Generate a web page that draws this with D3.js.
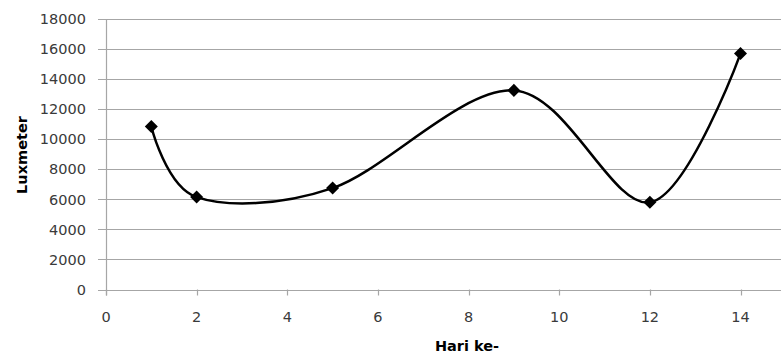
<!DOCTYPE html>
<html>
<head>
<meta charset="utf-8">
<script src="https://cdn.jsdelivr.net/npm/d3@7"></script>
<style>
  html, body { margin: 0; padding: 0; background: #fff; }
  svg { display: block; }
  text { font-family: "DejaVu Sans", Verdana, sans-serif; }
</style>
</head>
<body>
<svg id="chart" width="781" height="353"></svg>
<script>
// Daily light readings (lux) by day number
const days = [1, 2, 5, 9, 12, 14];
const lux = [10850, 6150, 6750, 13250, 5800, 15700];
const xTicks = [0, 2, 4, 6, 8, 10, 12, 14];
const yTicks = [0, 2000, 4000, 6000, 8000, 10000, 12000, 14000, 16000, 18000];

const svg = d3.select("#chart");
const W = 781, H = 353;
const plotLeft = 106, plotTop = 19, plotBottom = 289.5;

const x = d3.scaleLinear().domain([0, 14]).range([plotLeft, 740.5]);
const y = d3.scaleLinear().domain([0, 18000]).range([plotBottom, plotTop]);

const grid = "#a6a6a6";
const labelColor = "#3a3a3a";

// horizontal gridlines with small tick stubs on the left
const gy = svg.append("g");
gy.selectAll("line").data(yTicks).join("line")
  .attr("x1", plotLeft - 8).attr("x2", W)
  .attr("y1", d => Math.round(y(d)) + 0.5).attr("y2", d => Math.round(y(d)) + 0.5)
  .attr("stroke", grid).attr("stroke-width", 1.2);
gy.selectAll("text").data(yTicks).join("text")
  .attr("x", 86).attr("y", d => y(d)).attr("dy", "0.36em")
  .attr("text-anchor", "end").attr("font-size", 14.5).attr("fill", labelColor)
  .text(d => d);

// vertical axis line
svg.append("line")
  .attr("x1", plotLeft + 0.5).attr("x2", plotLeft + 0.5)
  .attr("y1", y(18000)).attr("y2", plotBottom + 6)
  .attr("stroke", grid).attr("stroke-width", 1.2);

// x ticks and labels
const gx = svg.append("g");
gx.selectAll("line").data(xTicks).join("line")
  .attr("x1", d => Math.round(x(d)) + 0.5).attr("x2", d => Math.round(x(d)) + 0.5)
  .attr("y1", plotBottom).attr("y2", plotBottom + 6)
  .attr("stroke", grid).attr("stroke-width", 1.2);
gx.selectAll("text").data(xTicks).join("text")
  .attr("x", d => x(d)).attr("y", 322)
  .attr("text-anchor", "middle").attr("font-size", 14.5).attr("fill", labelColor)
  .text(d => d);

// smoothed series line
const pts = days.map((d, i) => [d, lux[i]]);
const line = d3.line().x(d => x(d[0])).y(d => y(d[1])).curve(d3.curveCardinal.tension(0));
svg.append("path").datum(pts)
  .attr("d", line).attr("fill", "none")
  .attr("stroke", "#000").attr("stroke-width", 2.5);

// diamond markers (square turned 45 degrees)
const sym = d3.symbol().type(d3.symbolSquare).size(85);
svg.append("g").selectAll("path").data(pts).join("path")
  .attr("transform", d => `translate(${x(d[0])},${y(d[1])}) rotate(45)`)
  .attr("d", sym).attr("fill", "#000");

// axis titles
svg.append("text")
  .attr("transform", `translate(27,155) rotate(-90)`)
  .attr("text-anchor", "middle").attr("font-size", 14.5).attr("font-weight", "bold")
  .attr("fill", "#000").text("Luxmeter");
svg.append("text")
  .attr("x", 467).attr("y", 351)
  .attr("text-anchor", "middle").attr("font-size", 14.5).attr("font-weight", "bold")
  .attr("fill", "#000").text("Hari ke-");
</script>
</body>
</html>
